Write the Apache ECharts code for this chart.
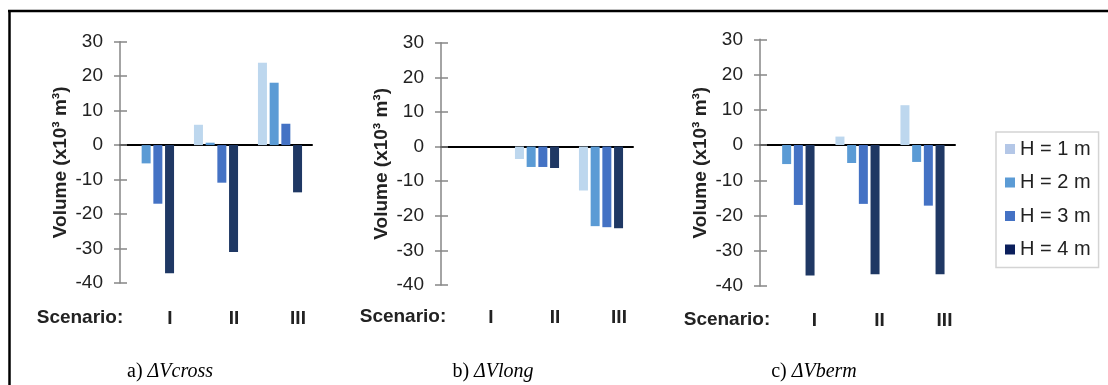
<!DOCTYPE html>
<html>
<head>
<meta charset="utf-8">
<script src="https://cdn.jsdelivr.net/npm/echarts@6/dist/echarts.min.js"></script>
<style>
  html, body { margin: 0; padding: 0; background: #fff; }
  #chart { width: 1108px; height: 385px; }
</style>
</head>
<body>
<div id="chart"></div>
<script>
// Scenario categories and wave heights
const scenarios = ['I', 'II', 'III'];
const heights = ['H = 1 m', 'H = 2 m', 'H = 3 m', 'H = 4 m'];
const yTicks = { min: -40, max: 30, step: 10 };

// ΔVcross (x10³ m³), one array per wave height, values for I, II, III
const crossH1 = [0, 5.9, 23.9];
const crossH2 = [-5.3, 0.7, 18.1];
const crossH3 = [-17.0, -10.9, 6.2];
const crossH4 = [-37.2, -31.0, -13.7];

// ΔVlong (x10³ m³)
const longH1 = [0, -3.6, -12.7];
const longH2 = [0, -5.9, -23.0];
const longH3 = [0, -5.9, -23.3];
const longH4 = [0, -6.2, -23.6];

// ΔVberm (x10³ m³)
const bermH1 = [0, 2.4, 11.3];
const bermH2 = [-5.4, -5.1, -4.8];
const bermH3 = [-17.0, -16.7, -17.2];
const bermH4 = [-37.0, -36.7, -36.7];

const panelValues = [
  [crossH1, crossH2, crossH3, crossH4],
  [longH1, longH2, longH3, longH4],
  [bermH1, bermH2, bermH3, bermH4]
];

const barColors = ['#bdd7ee', '#5b9bd5', '#4472c4', '#1f3864'];
const legendColors = ['#b4c7e7', '#5b9bd5', '#4472c4', '#0b1f5c'];

// Panel layout: plot rectangle, label shift, caption
const panels = [
  { left: 120, top: 41.7, width: 192, height: 241.3, labelPad: 36, labelMargin: 26,
    scenX: 80, scenY: 318, capX: 170, capY: 372, capTag: 'a) ', capName: 'ΔVcross' },
  { left: 441, top: 42.7, width: 192, height: 242.3, labelPad: 36, labelMargin: 23,
    scenX: 403, scenY: 317, capX: 493, capY: 372, capTag: 'b) ', capName: 'ΔVlong' },
  { left: 760, top: 39.3, width: 195, height: 246.7, labelPad: 44, labelMargin: 25,
    scenX: 727, scenY: 320, capX: 814, capY: 372, capTag: 'c) ', capName: 'ΔVberm' }
];

const sans = '"Liberation Sans", Arial, sans-serif';
const serif = '"Liberation Serif", "Times New Roman", serif';
const textColor = '#222';
const axisGray = '#868686';

const grid = [], xAxis = [], yAxis = [], series = [], graphic = [];

panels.forEach((p, i) => {
  grid.push({ left: p.left, top: p.top, width: p.width, height: p.height, containLabel: false });

  // zero line axis (carries the bars)
  xAxis.push({
    type: 'category', gridIndex: i, data: scenarios, position: 'bottom',
    axisLine: { onZero: true, lineStyle: { color: '#000', width: 2 } },
    axisTick: { show: false }, axisLabel: { show: false }, splitLine: { show: false }
  });
  // scenario labels under the plot
  xAxis.push({
    type: 'category', gridIndex: i, data: scenarios, position: 'bottom',
    axisLine: { show: false, onZero: false }, axisTick: { show: false },
    axisLabel: {
      fontFamily: sans, fontSize: 19, fontWeight: 'bold', color: textColor,
      margin: p.labelMargin, padding: [0, 0, 0, p.labelPad]
    },
    splitLine: { show: false }
  });

  // value axis with outward ticks
  yAxis.push({
    type: 'value', gridIndex: i, position: 'left',
    min: yTicks.min, max: yTicks.max, interval: yTicks.step,
    name: 'Volume (x10³ m³)', nameLocation: 'middle', nameGap: 50, nameRotate: 90,
    nameTextStyle: { fontFamily: sans, fontSize: 19, fontWeight: 'bold', color: textColor },
    axisLine: { show: true, lineStyle: { color: axisGray, width: 1.5 } },
    axisTick: { show: true, length: 6, lineStyle: { color: axisGray, width: 1.5 } },
    axisLabel: { fontFamily: sans, fontSize: 19, color: textColor, margin: 17 },
    splitLine: { show: false }
  });
  // companion axis giving the ticks their inward half
  yAxis.push({
    type: 'value', gridIndex: i, position: 'left',
    min: yTicks.min, max: yTicks.max, interval: yTicks.step,
    axisLine: { show: false },
    axisTick: { show: true, inside: true, length: 7, lineStyle: { color: axisGray, width: 1.5 } },
    axisLabel: { show: false }, splitLine: { show: false }
  });

  heights.forEach((h, k) => {
    series.push({
      type: 'bar', name: h,
      xAxisIndex: i * 2, yAxisIndex: i * 2,
      data: panelValues[i][k],
      barWidth: 9, barGap: '30%',
      itemStyle: { color: barColors[k] },
      emphasis: { disabled: true }
    });
  });

  graphic.push({
    type: 'text', left: p.scenX, top: p.scenY,
    style: { text: 'Scenario:', font: 'bold 19px ' + sans, fill: textColor, align: 'center', verticalAlign: 'middle' },
    x: p.scenX, y: p.scenY
  });
  graphic.push({
    type: 'text', x: p.capX, y: p.capY,
    style: {
      text: '{t|' + p.capTag + '}{n|' + p.capName + '}',
      align: 'center', verticalAlign: 'middle',
      rich: {
        t: { fontFamily: serif, fontSize: 20, fill: '#000' },
        n: { fontFamily: serif, fontSize: 20, fontStyle: 'italic', fill: '#000' }
      }
    }
  });
});

// outer frame (top and left edges)
graphic.push({ type: 'line', shape: { x1: 8, y1: 11, x2: 1108, y2: 11 }, style: { stroke: '#000', lineWidth: 2.5 } });
graphic.push({ type: 'line', shape: { x1: 9.5, y1: 10, x2: 9.5, y2: 385 }, style: { stroke: '#000', lineWidth: 2.5 } });

// the "Scenario:" labels use absolute x/y, drop left/top
graphic.forEach(g => { delete g.left; delete g.top; });

const chart = echarts.init(document.getElementById('chart'), null, { renderer: 'canvas' });
chart.setOption({
  animation: false,
  backgroundColor: '#fff',
  grid, xAxis, yAxis, series, graphic,
  legend: {
    orient: 'vertical', left: 996, top: 132,
    padding: [7, 8, 8, 9],
    itemWidth: 10, itemHeight: 10, itemGap: 13.5,
    icon: 'rect',
    borderColor: '#d4d4d4', borderWidth: 1.5,
    textStyle: { fontFamily: sans, fontSize: 20, color: textColor },
    data: heights.map((h, k) => ({ name: h, itemStyle: { color: legendColors[k] } }))
  }
});
</script>
</body>
</html>
